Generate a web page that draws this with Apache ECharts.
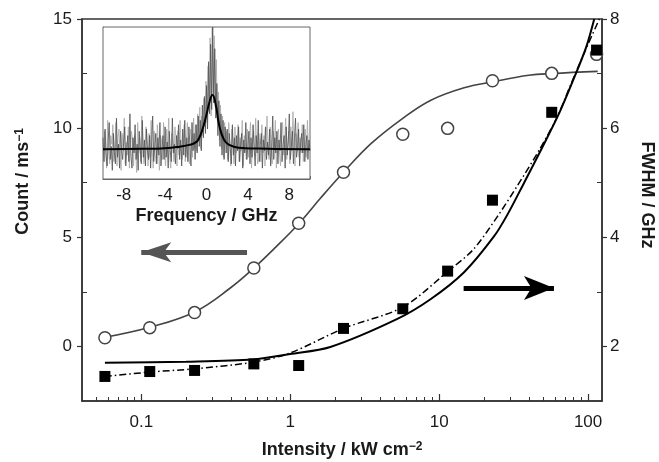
<!DOCTYPE html>
<html>
<head>
<meta charset="utf-8">
<title></title>
<script src="https://cdn.jsdelivr.net/npm/echarts@6/dist/echarts.min.js"></script>
<style>
    html, body { margin: 0; padding: 0; background: #fff; }
    #main { width: 659px; height: 462px; }
</style>
</head>
<body>
<div id="main"></div>
<script>
    // measured points
    var intensity = [0.057, 0.114, 0.228, 0.57, 1.14, 2.28, 5.7, 11.4, 22.8, 57, 114];
    var countRate = [0.40, 0.86, 1.55, 3.59, 5.64, 7.98, 9.72, 9.99, 12.17, 12.51, 13.38];
    var fwhm = [1.45, 1.54, 1.56, 1.68, 1.65, 2.33, 2.69, 3.38, 4.68, 6.29, 7.43];

    // fit curves
    var countFitX = [0.057, 0.114, 0.228, 0.4, 0.57, 0.8, 1.14, 1.6, 2.28, 3.5, 5.7, 8.8, 14.7, 22.8, 40, 57, 116];
    var countFitY = [0.42, 0.88, 1.58, 2.7, 3.59, 4.55, 5.62, 6.8, 7.98, 9.3, 10.45, 11.28, 11.85, 12.12, 12.42, 12.5, 12.6];
    var fwhmFitX = [0.057, 0.2, 0.56, 1.0, 1.86, 5.2, 8.8, 14.7, 23.4, 28.8, 37.2, 49.5, 64.1, 78.9, 97, 110];
    var fwhmFitY = [1.70, 1.72, 1.76, 1.86, 1.99, 2.5, 2.87, 3.36, 4.02, 4.42, 5.0, 5.66, 6.28, 6.86, 7.48, 8.0];
    var fwhmFit2X = [0.057, 0.114, 0.228, 0.56, 1.0, 2.28, 5.7, 11.5, 17, 24.6, 33.6, 47, 61.9, 76, 95, 119];
    var fwhmFit2Y = [1.45, 1.53, 1.59, 1.71, 1.88, 2.33, 2.72, 3.38, 3.78, 4.38, 4.95, 5.6, 6.2, 6.78, 7.4, 8.0];

    var xMajor = [0.1, 1, 10, 100];
    var xMinor = [0.05, 0.06, 0.07, 0.08, 0.09, 0.2, 0.3, 0.4, 0.5, 0.6, 0.7, 0.8, 0.9,
        2, 3, 4, 5, 6, 7, 8, 9, 20, 30, 40, 50, 60, 70, 80, 90];
    var leftMajor = [0, 5, 10, 15];
    var leftMinor = [2.5, 7.5, 12.5];
    var rightMajor = [2, 4, 6, 8];
    var rightMinor = [3, 5, 7];

    // inset spectrum, dark trace: step 0.1 GHz from -10 to 10
    var spectrum = [
        1.9, 0.8, 2.3, 1.1, 0.6, 1.8, 2.6, 0.9, 1.5, 0.4,
        2.1, 1.2, 0.7, 2.8, 1.0, 1.6, 0.5, 2.2, 1.3, 0.9,
        1.7, 2.4, 0.6, 1.4, 2.0, 0.8, 3.0, 1.1, 0.5, 1.9,
        1.2, 2.5, 0.9, 1.6, 0.4, 2.2, 1.4, 0.7, 2.7, 1.0,
        1.8, 0.6, 2.3, 1.3, 0.9, 2.0, 0.5, 1.7, 2.9, 0.8,
        1.5, 2.1, 0.7, 1.9, 1.1, 2.6, 0.6, 1.4, 2.0, 0.9,
        2.4, 1.0, 1.7, 0.5, 2.2, 1.3, 0.8, 2.8, 1.2, 1.6,
        0.7, 2.0, 1.4, 2.5, 0.9, 1.8, 0.6, 2.3, 1.1, 2.7,
        1.0, 1.9, 0.8, 2.4, 1.5, 0.6, 2.6, 1.3, 2.1, 0.9,
        2.5, 1.2, 2.9, 1.5, 2.7, 1.3, 3.4, 1.9, 3.8, 2.1,
        4.3, 2.3, 5.4, 3.0, 6.2, 3.2, 7.0, 3.5, 6.0, 2.8,
        4.4, 2.0, 3.6, 1.5, 3.0, 1.1, 2.7, 0.9, 2.4, 1.2,
        2.3, 0.8, 2.1, 1.4, 0.7, 2.5, 1.1, 1.9, 0.6, 2.0,
        1.3, 2.4, 0.8, 1.6, 2.1, 0.5, 1.8, 1.2, 2.6, 0.9,
        1.5, 2.2, 0.7, 1.9, 1.0, 2.5, 1.4, 0.6, 2.0, 1.2,
        2.7, 0.8, 1.6, 2.1, 0.5, 1.8, 1.3, 2.4, 0.9, 1.7,
        1.1, 2.3, 0.6, 1.5, 2.9, 0.9, 1.9, 1.2, 2.2, 0.7,
        1.8, 1.3, 2.6, 0.8, 1.6, 2.0, 0.5, 2.4, 1.1, 1.7,
        3.0, 0.9, 1.5, 2.2, 0.7, 1.9, 2.8, 1.0, 1.4, 2.3,
        0.6, 1.7, 2.1, 1.2, 2.5, 0.8, 1.6, 2.0, 0.9, 1.8,
        1.3
    ];
    // light trace: step 0.1 GHz from -9.95 to 9.95
    var spectrumLight = [
        0.9, 2.2, 1.4, 0.5, 2.7, 1.2, 0.7, 2.0, 1.6, 2.5,
        0.8, 1.5, 2.6, 0.6, 1.9, 2.3, 1.0, 0.4, 2.1, 1.3,
        2.8, 0.7, 1.7, 1.1, 2.4, 0.5, 1.5, 2.2, 1.8, 0.6,
        2.0, 1.4, 0.3, 2.6, 1.2, 1.9, 0.8, 2.9, 1.5, 0.7,
        1.3, 2.4, 1.7, 0.6, 2.1, 1.0, 2.7, 1.4, 0.5, 2.2,
        1.1, 0.7, 2.5, 1.6, 0.4, 2.0, 1.8, 0.9, 2.6, 1.2,
        0.6, 2.3, 1.5, 2.8, 1.0, 0.5, 2.1, 1.6, 0.8, 2.4,
        1.9, 0.6, 2.2, 1.1, 2.7, 1.4, 0.9, 1.7, 2.5, 0.8,
        1.6, 2.6, 1.2, 0.7, 2.3, 1.9, 1.0, 2.8, 1.4, 2.5,
        1.3, 3.0, 1.8, 3.3, 1.4, 2.9, 2.0, 3.7, 2.4, 4.5,
        2.6, 5.2, 3.1, 6.5, 2.9, 7.0, 3.8, 6.6, 3.3, 5.5,
        2.7, 4.0, 1.8, 3.4, 1.4, 2.9, 1.0, 2.6, 1.7, 2.2,
        0.9, 2.6, 1.5, 0.6, 2.3, 1.8, 0.7, 2.4, 1.2, 1.6,
        2.5, 0.8, 1.9, 1.3, 2.7, 0.6, 2.0, 1.5, 0.9, 2.3,
        1.0, 1.8, 2.6, 0.5, 1.6, 2.2, 1.1, 2.8, 1.4, 0.7,
        2.1, 1.5, 0.8, 2.5, 1.2, 2.0, 0.6, 1.7, 2.9, 1.3,
        0.9, 2.4, 1.6, 0.7, 2.2, 1.4, 2.7, 0.5, 1.8, 2.3,
        1.2, 0.6, 2.0, 2.6, 1.1, 1.7, 2.8, 0.9, 1.5, 2.2,
        0.7, 2.4, 1.3, 3.1, 1.8, 0.6, 2.1, 1.4, 2.6, 1.0,
        1.9, 1.2, 2.5, 0.8, 1.6, 2.3, 1.0, 2.7, 1.4, 1.7
    ];
    var lorentzX = [-10, -6, -4, -2.6, -1.66, -1.0, -0.7, -0.38, -0.06, 0.26, 0.58, 0.9, 1.22, 1.7, 2.2, 3.1, 5, 7, 10];
    var lorentzY = [1.37, 1.39, 1.42, 1.49, 1.57, 1.7, 1.9, 2.3, 2.85, 3.49, 3.87, 3.41, 2.49, 1.8, 1.57, 1.44, 1.4, 1.38, 1.37];

    function zip(xs, ys) {
        return xs.map(function (x, i) { return [x, ys[i]]; });
    }
    function onGrid(values, start) {
        return values.map(function (v, i) {
            return [Math.round((start + i * 0.1) * 100) / 100, v];
        });
    }

    var font = '"Liberation Sans", Arial, sans-serif';
    var ink = '#1a1a1a';
    var labelStyle = { fontFamily: font, fontSize: 17, color: ink };
    var nameRich = {
        t: { fontFamily: font, fontSize: 18, fontWeight: 'bold', color: ink },
        s: { fontFamily: font, fontSize: 12, fontWeight: 'bold', color: ink, verticalAlign: 'top' }
    };

    var myChart = echarts.init(document.getElementById('main'));
    var option = {
        animation: false,
        backgroundColor: '#fff',
        grid: [
            { left: 82, top: 19, right: 57, bottom: 61, show: true, borderColor: '#333', borderWidth: 1.5, outerBoundsMode: 'none' },
            { left: 103, top: 27, width: 207, height: 152, show: true, backgroundColor: '#fff', borderColor: '#666', borderWidth: 1, outerBoundsMode: 'none', z: 5 }
        ],
        xAxis: [
            {
                type: 'log', gridIndex: 0, position: 'bottom', min: 0.04, max: 124,
                axisLine: { onZero: false, lineStyle: { color: '#333', width: 1.5 } },
                axisTick: { inside: true, length: 7, customValues: xMajor, lineStyle: { color: '#333', width: 1.2 } },
                axisLabel: Object.assign({ customValues: xMajor, margin: 13, formatter: function (v) { return String(v); } }, labelStyle),
                splitLine: { show: false },
                name: '{t|Intensity / kW cm}{s|−2}',
                nameLocation: 'middle', nameGap: 40,
                nameTextStyle: { rich: nameRich }
            },
            {
                type: 'log', gridIndex: 0, position: 'bottom', min: 0.04, max: 124,
                axisLine: { show: false, onZero: false },
                axisTick: { inside: true, length: 4, customValues: xMinor, lineStyle: { color: '#333', width: 1 } },
                axisLabel: { show: false },
                splitLine: { show: false }
            },
            {
                type: 'value', gridIndex: 1, min: -10, max: 10, interval: 2,
                axisLine: { onZero: false, lineStyle: { color: '#666', width: 1 } },
                axisTick: { inside: true, length: 3, lineStyle: { color: '#666' } },
                axisLabel: Object.assign({
                    margin: 8,
                    formatter: function (v) { return (v % 4 === 0 && Math.abs(v) < 10) ? String(v) : ''; }
                }, labelStyle),
                splitLine: { show: false },
                name: 'Frequency / GHz',
                nameLocation: 'middle', nameGap: 28,
                nameTextStyle: { fontFamily: font, fontSize: 18, fontWeight: 'bold', color: ink }
            }
        ],
        yAxis: [
            {
                type: 'value', gridIndex: 0, position: 'left', min: -2.5, max: 15,
                axisLine: { show: true, onZero: false, lineStyle: { color: '#333', width: 1.5 } },
                axisTick: { show: true, length: 5, customValues: leftMajor, lineStyle: { color: '#333', width: 1.2 } },
                axisLabel: Object.assign({ customValues: leftMajor, margin: 10 }, labelStyle),
                splitLine: { show: false },
                name: '{t|Count / ms}{s|−1}',
                nameLocation: 'middle', nameGap: 50, nameRotate: 90,
                nameTextStyle: { rich: nameRich, padding: [0, 0, 0, 57] }
            },
            {
                type: 'value', gridIndex: 0, position: 'left', min: -2.5, max: 15,
                axisLine: { show: false, onZero: false },
                axisTick: { show: true, inside: true, length: 5, customValues: leftMinor, lineStyle: { color: '#333', width: 1 } },
                axisLabel: { show: false },
                splitLine: { show: false }
            },
            {
                type: 'value', gridIndex: 0, position: 'right', min: 1, max: 8,
                axisLine: { show: true, onZero: false, lineStyle: { color: '#333', width: 1.5 } },
                axisTick: { show: true, length: 5, customValues: rightMajor, lineStyle: { color: '#333', width: 1.2 } },
                axisLabel: Object.assign({ customValues: rightMajor, margin: 8 }, labelStyle),
                splitLine: { show: false },
                name: 'FWHM / GHz',
                nameLocation: 'middle', nameGap: 36, nameRotate: -90,
                nameTextStyle: { fontFamily: font, fontSize: 18, fontWeight: 'bold', color: ink, padding: [0, 30, 0, 0] }
            },
            {
                type: 'value', gridIndex: 0, position: 'right', min: 1, max: 8,
                axisLine: { show: false, onZero: false },
                axisTick: { show: true, inside: true, length: 5, customValues: rightMinor, lineStyle: { color: '#333', width: 1 } },
                axisLabel: { show: false },
                splitLine: { show: false }
            },
            {
                type: 'value', gridIndex: 1, min: 0, max: 7, interval: 1,
                axisLine: { show: true, onZero: false, lineStyle: { color: '#666', width: 1 } },
                axisTick: { show: true, inside: true, length: 3, lineStyle: { color: '#666' } },
                axisLabel: { show: false },
                splitLine: { show: false }
            }
        ],
        series: [
            {
                type: 'line', xAxisIndex: 0, yAxisIndex: 0, data: zip(countFitX, countFitY),
                smooth: 0.4, symbol: 'none', lineStyle: { color: '#444', width: 1.6 }, z: 2
            },
            {
                type: 'line', xAxisIndex: 0, yAxisIndex: 2, data: zip(fwhmFitX, fwhmFitY),
                smooth: 0.3, symbol: 'none', lineStyle: { color: '#000', width: 2 }, z: 2
            },
            {
                type: 'line', xAxisIndex: 0, yAxisIndex: 2, data: zip(fwhmFit2X, fwhmFit2Y),
                smooth: 0.3, symbol: 'none', lineStyle: { color: '#000', width: 1.5, type: [7, 3, 1.5, 3] }, z: 2
            },
            {
                type: 'scatter', xAxisIndex: 0, yAxisIndex: 0, data: zip(intensity, countRate),
                symbol: 'circle', symbolSize: 12,
                itemStyle: { color: '#fff', borderColor: '#444', borderWidth: 1.5, opacity: 1 }, z: 4,
                markLine: {
                    silent: true, symbol: ['none', 'arrow'], symbolSize: [15, 30], label: { show: false },
                    lineStyle: { color: '#555', width: 5, type: 'solid', opacity: 1 },
                    data: [[{ coord: [0.513, 4.31] }, { coord: [0.1, 4.31] }]]
                }
            },
            {
                type: 'scatter', xAxisIndex: 0, yAxisIndex: 2, data: zip(intensity, fwhm),
                symbol: 'rect', symbolSize: 11,
                itemStyle: { color: '#000', opacity: 1 }, z: 4,
                markLine: {
                    silent: true, symbol: ['none', 'arrow'], symbolSize: [18, 30], label: { show: false },
                    lineStyle: { color: '#000', width: 5, type: 'solid', opacity: 1 },
                    data: [[{ coord: [14.6, 3.07] }, { coord: [59, 3.07] }]]
                }
            },
            {
                type: 'line', xAxisIndex: 2, yAxisIndex: 4, data: onGrid(spectrumLight, -9.95),
                symbol: 'none', lineStyle: { color: '#a8a8a8', width: 0.8 }, z: 6
            },
            {
                type: 'line', xAxisIndex: 2, yAxisIndex: 4, data: onGrid(spectrum, -10),
                symbol: 'none', lineStyle: { color: '#505050', width: 0.8 }, z: 6
            },
            {
                type: 'line', xAxisIndex: 2, yAxisIndex: 4, data: zip(lorentzX, lorentzY),
                smooth: true, symbol: 'none', lineStyle: { color: '#000', width: 2 }, z: 7
            }
        ]
    };
    myChart.setOption(option);
</script>
</body>
</html>
